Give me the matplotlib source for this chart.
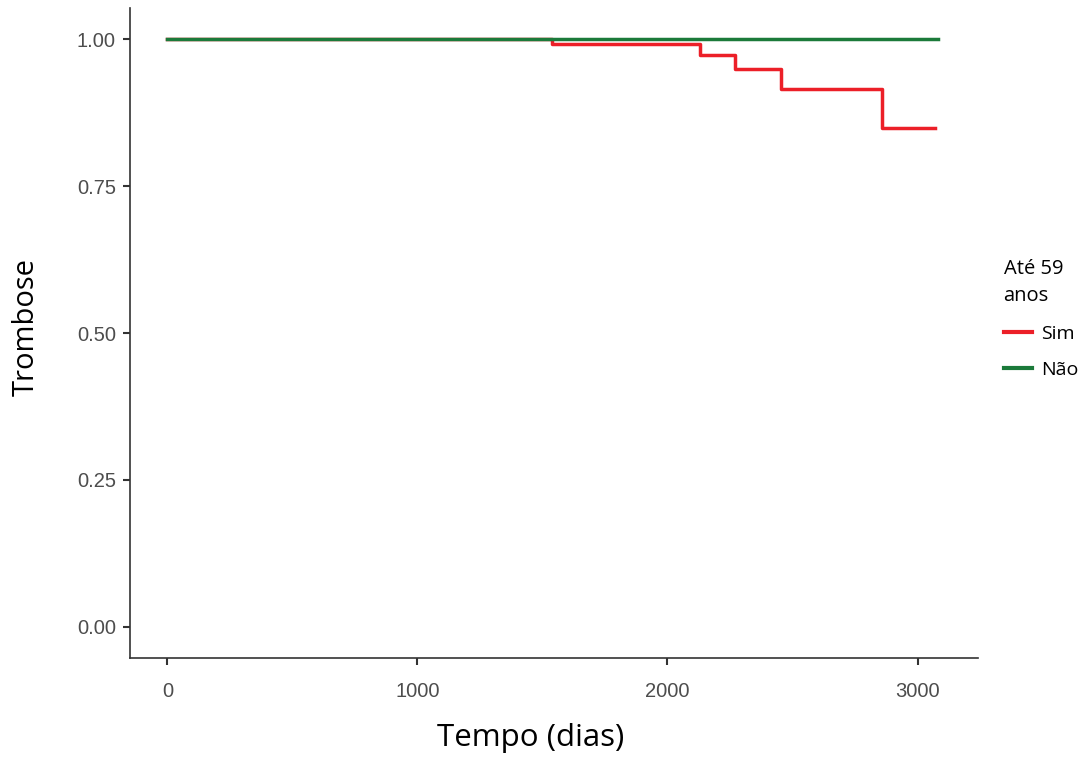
import matplotlib.pyplot as plt

# Kaplan-Meier style curves
sim_t = [0, 1540, 2130, 2270, 2453, 2856, 3071]
sim_s = [1.0, 0.992, 0.974, 0.949, 0.915, 0.849, 0.849]
nao_t = [0, 3083]
nao_s = [1.0, 1.0]

x_ticks = [0, 1000, 2000, 3000]
y_ticks = [0.00, 0.25, 0.50, 0.75, 1.00]

fig = plt.figure(figsize=(10.91, 7.58), dpi=100)
ax = fig.add_axes([0.119, 0.132, 0.777, 0.857])

ax.step(sim_t, sim_s, where='post', color='#EC1F28', lw=2.5, label='Sim')
ax.step(nao_t, nao_s, where='post', color='#1B7A3A', lw=2.5, label='Não')

ax.set_xlim(-150, 3240)
ax.set_ylim(-0.053, 1.053)
ax.set_xticks(x_ticks)
ax.set_yticks(y_ticks)
ax.set_yticklabels([f'{v:.2f}' for v in y_ticks])

for s in ['top', 'right']:
    ax.spines[s].set_visible(False)
for s in ['left', 'bottom']:
    ax.spines[s].set_color('#333333')
    ax.spines[s].set_linewidth(1.2)

tick_font = ['Liberation Sans Narrow', 'Liberation Sans', 'DejaVu Sans']
ax.tick_params(length=5, width=1.5, color='#333333', labelcolor='#4D4D4D',
               labelsize=14.5, pad=5)
ax.tick_params(axis='x', pad=12)
for lab in ax.get_xticklabels() + ax.get_yticklabels():
    lab.set_family(tick_font)

lab_font = ['Open Sans', 'DejaVu Sans']
ax.set_xlabel('Tempo (dias)', fontsize=22.5, family=lab_font)
ax.set_ylabel('Trombose', fontsize=21, family=lab_font)
ax.xaxis.set_label_coords(0.473, -0.1)
ax.yaxis.set_label_coords(-0.105, 0.509)

leg = ax.legend(title='Até 59\nanos', loc='center left', bbox_to_anchor=(1.01, 0.522),
                frameon=False, handlelength=1.45, handletextpad=0.5,
                prop={'family': lab_font, 'size': 14},
                title_fontproperties={'family': lab_font, 'size': 14.5},
                labelspacing=0.95)
leg._legend_box.align = 'left'
leg.get_title().set_linespacing(1.5)
for h in leg.get_lines():
    h.set_linewidth(3)

fig.savefig('out.png', dpi=100)
